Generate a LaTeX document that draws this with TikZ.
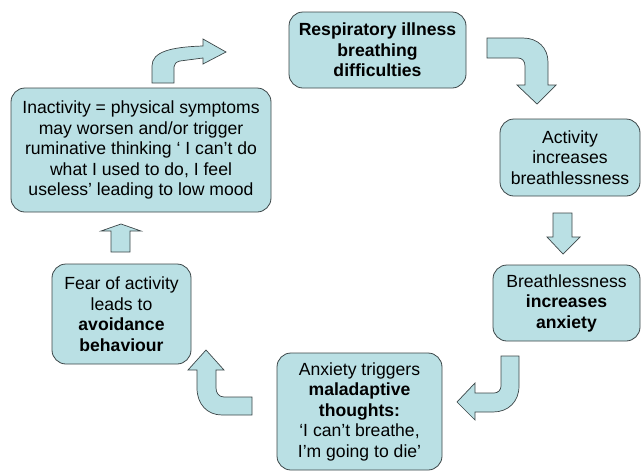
\documentclass[tikz,border=0pt]{standalone}
\usepackage{fontspec}
\setmainfont{Liberation Sans}
\usepackage{xcolor}
\usetikzlibrary{positioning}

\definecolor{boxfill}{RGB}{186,224,228}
\definecolor{boxline}{RGB}{60,70,72}

\tikzset{
  cyclebox/.style={draw=boxline, fill=boxfill, line width=0.8pt, rounded corners=14pt,
    align=center, inner sep=2pt, font=\fontsize{17.6}{20.5}\selectfont},
  blockarrow/.style={draw=boxline, fill=boxfill, line width=0.7pt, line join=miter}
}

\begin{document}
\begin{tikzpicture}[x=1pt, y=-1pt]
        \useasboundingbox (0,0) rectangle (641,472);
        \node[cyclebox, minimum width=177pt, minimum height=76pt] (resp) at (377.5,50) {\textbf{Respiratory illness}\\\textbf{breathing}\\\textbf{difficulties}};
        \node[cyclebox, minimum width=140pt, minimum height=77pt] (act) at (570,157.5) {Activity\\increases\\breathlessness};
        \node[cyclebox, minimum width=147pt, minimum height=76pt] (breath) at (566.5,303) {Breathlessness\\\textbf{increases}\\\textbf{anxiety}};
        \node[cyclebox, minimum width=165pt, minimum height=117pt] (anx) at (359.5,411.5) {Anxiety triggers\\\textbf{maladaptive}\\\textbf{thoughts:}\\`I can’t breathe,\\I’m going to die’};
        \node[cyclebox, minimum width=139pt, minimum height=100pt] (fear) at (121.5,314) {Fear of activity\\leads to\\\textbf{avoidance}\\\textbf{behaviour}};
        \node[cyclebox, minimum width=260pt, minimum height=124pt] (inact) at (141,150) {Inactivity = physical symptoms\\may worsen and/or trigger\\ruminative thinking ‘ I can’t do\\what I used to do, I feel\\useless’ leading to low mood};
        % block arrows round the cycle
        \draw[blockarrow] (487,38) -- (523,38) .. controls (538,38) and (548,48) .. (548,62) -- (548,85) -- (556,85) -- (537,104) -- (517,85) -- (525,85) -- (525,66) .. controls (525,61) and (522,58) .. (518,58) -- (487,58) -- cycle;
        \draw[blockarrow] (553,213) -- (572,213) -- (572,237) -- (580,237) -- (563,254) -- (547,237) -- (553,237) -- cycle;
        \draw[blockarrow] (501,356) -- (519,356) -- (519,386) .. controls (519,402) and (508,412) .. (493,412) -- (475,412) -- (475,420) -- (457,402) -- (475,383) -- (475,393) -- (494,393) .. controls (498,393) and (501,390) .. (501,386) -- cycle;
        \draw[blockarrow] (197,370) -- (188,370) -- (206,350) -- (224,370) -- (216,370) -- (216,388) .. controls (216,393) and (219,397) .. (224,397) -- (252,397) -- (252,415) -- (222,415) .. controls (207,415) and (197,404) .. (197,388) -- cycle;
        \draw[blockarrow] (111,252) -- (111,231) -- (101,231) -- (121,224) -- (141,231) -- (130,231) -- (130,252) -- cycle;
        \draw[blockarrow] (152,83) -- (152,66) .. controls (152,52) and (170,47) .. (203,46) -- (203,39) -- (226,52) -- (203,64) -- (203,58) -- (180,61) .. controls (176,62) and (174,64) .. (174,67) -- (174,83) -- cycle;
    \end{tikzpicture}
\end{document}
